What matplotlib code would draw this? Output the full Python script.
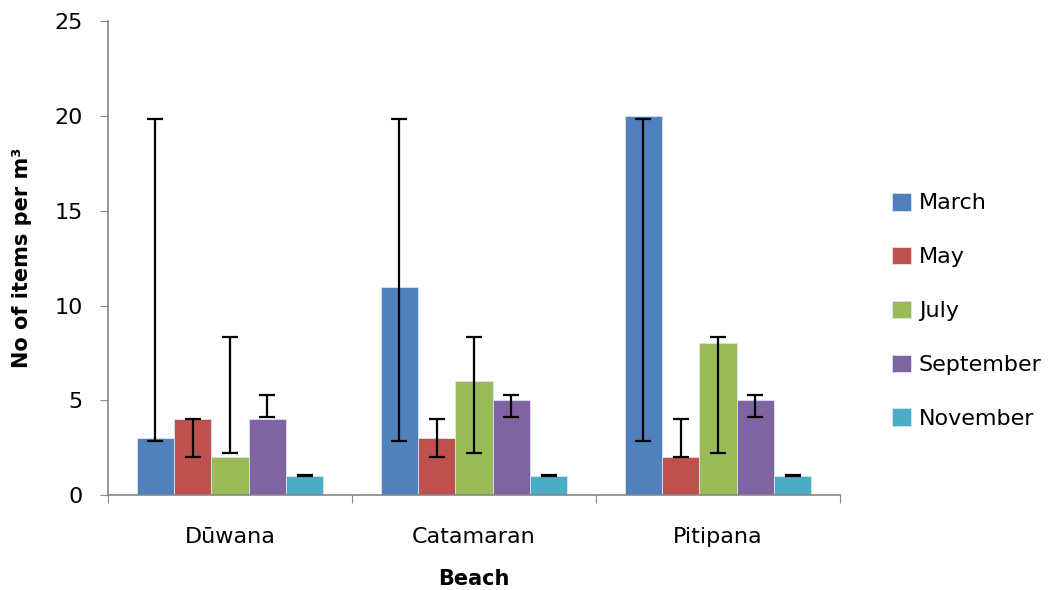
import numpy as np
import matplotlib
matplotlib.use('Agg')
import matplotlib.pyplot as plt

plt.rcParams['font.family'] = ['DejaVu Sans']

beaches = ['Dūwana', 'Catamaran', 'Pitipana']
months = ['March', 'May', 'July', 'September', 'November']
colors = ['#4F81BD', '#C0504D', '#9BBB59', '#8064A2', '#4BACC6']

# bar heights per month (Dūwana, Catamaran, Pitipana)
values = {
    'March': [3, 11, 20],
    'May': [4, 3, 2],
    'July': [2, 6, 8],
    'September': [4, 5, 5],
    'November': [1, 1, 1],
}
# error bar ranges (low, high) per month, same on each beach
err_low = {'March': 2.85, 'May': 1.98, 'July': 2.2, 'September': 4.1, 'November': 1.0}
err_high = {'March': 19.85, 'May': 4.0, 'July': 8.35, 'September': 5.3, 'November': 1.06}

fig = plt.figure(figsize=(10.58, 5.9), dpi=100)
ax = fig.add_axes([0.102, 0.161, 0.692, 0.803])

x = np.arange(len(beaches))
width = 0.153
for i, m in enumerate(months):
    pos = x + (i - 2) * width
    ax.bar(pos, values[m], width, color=colors[i], edgecolor='#d8e4f0', linewidth=0.6,
           label=m, zorder=2)
    lo = np.full(len(beaches), err_low[m])
    hi = np.full(len(beaches), err_high[m])
    ax.errorbar(pos, (lo + hi) / 2, yerr=(hi - lo) / 2, fmt='none', ecolor='black',
                elinewidth=1.6, capsize=6, capthick=1.6, zorder=3)

ax.set_xlim(-0.5, 2.5)
ax.set_ylim(0, 25)
ax.set_yticks([0, 5, 10, 15, 20, 25])
ax.set_xticks([-0.5, 0.5, 1.5, 2.5])
ax.set_xticklabels([])
ax.set_xticks(x, minor=True)
ax.set_xticklabels(beaches, minor=True, fontsize=16)
ax.tick_params(axis='x', which='major', length=6, color='#868686', direction='out')
ax.tick_params(axis='x', which='minor', length=0, pad=23)
ax.tick_params(axis='y', length=6, color='#868686', direction='out', pad=12, labelsize=16)

for s in ['top', 'right']:
    ax.spines[s].set_visible(False)
for s in ['left', 'bottom']:
    ax.spines[s].set_color('#868686')
    ax.spines[s].set_linewidth(1.2)

ax.set_ylabel('No of items per m³', fontsize=15, fontweight='bold', labelpad=16)
ax.set_xlabel('Beach', fontsize=15, fontweight='bold', labelpad=16)

handles, labels = ax.get_legend_handles_labels()
fig.legend(handles, labels, loc='center left', bbox_to_anchor=(0.835, 0.473),
           frameon=False, fontsize=16, labelspacing=1.5, handlelength=0.85,
           handleheight=0.85, handletextpad=0.35, borderaxespad=0)

fig.savefig('out.png', dpi=100)
